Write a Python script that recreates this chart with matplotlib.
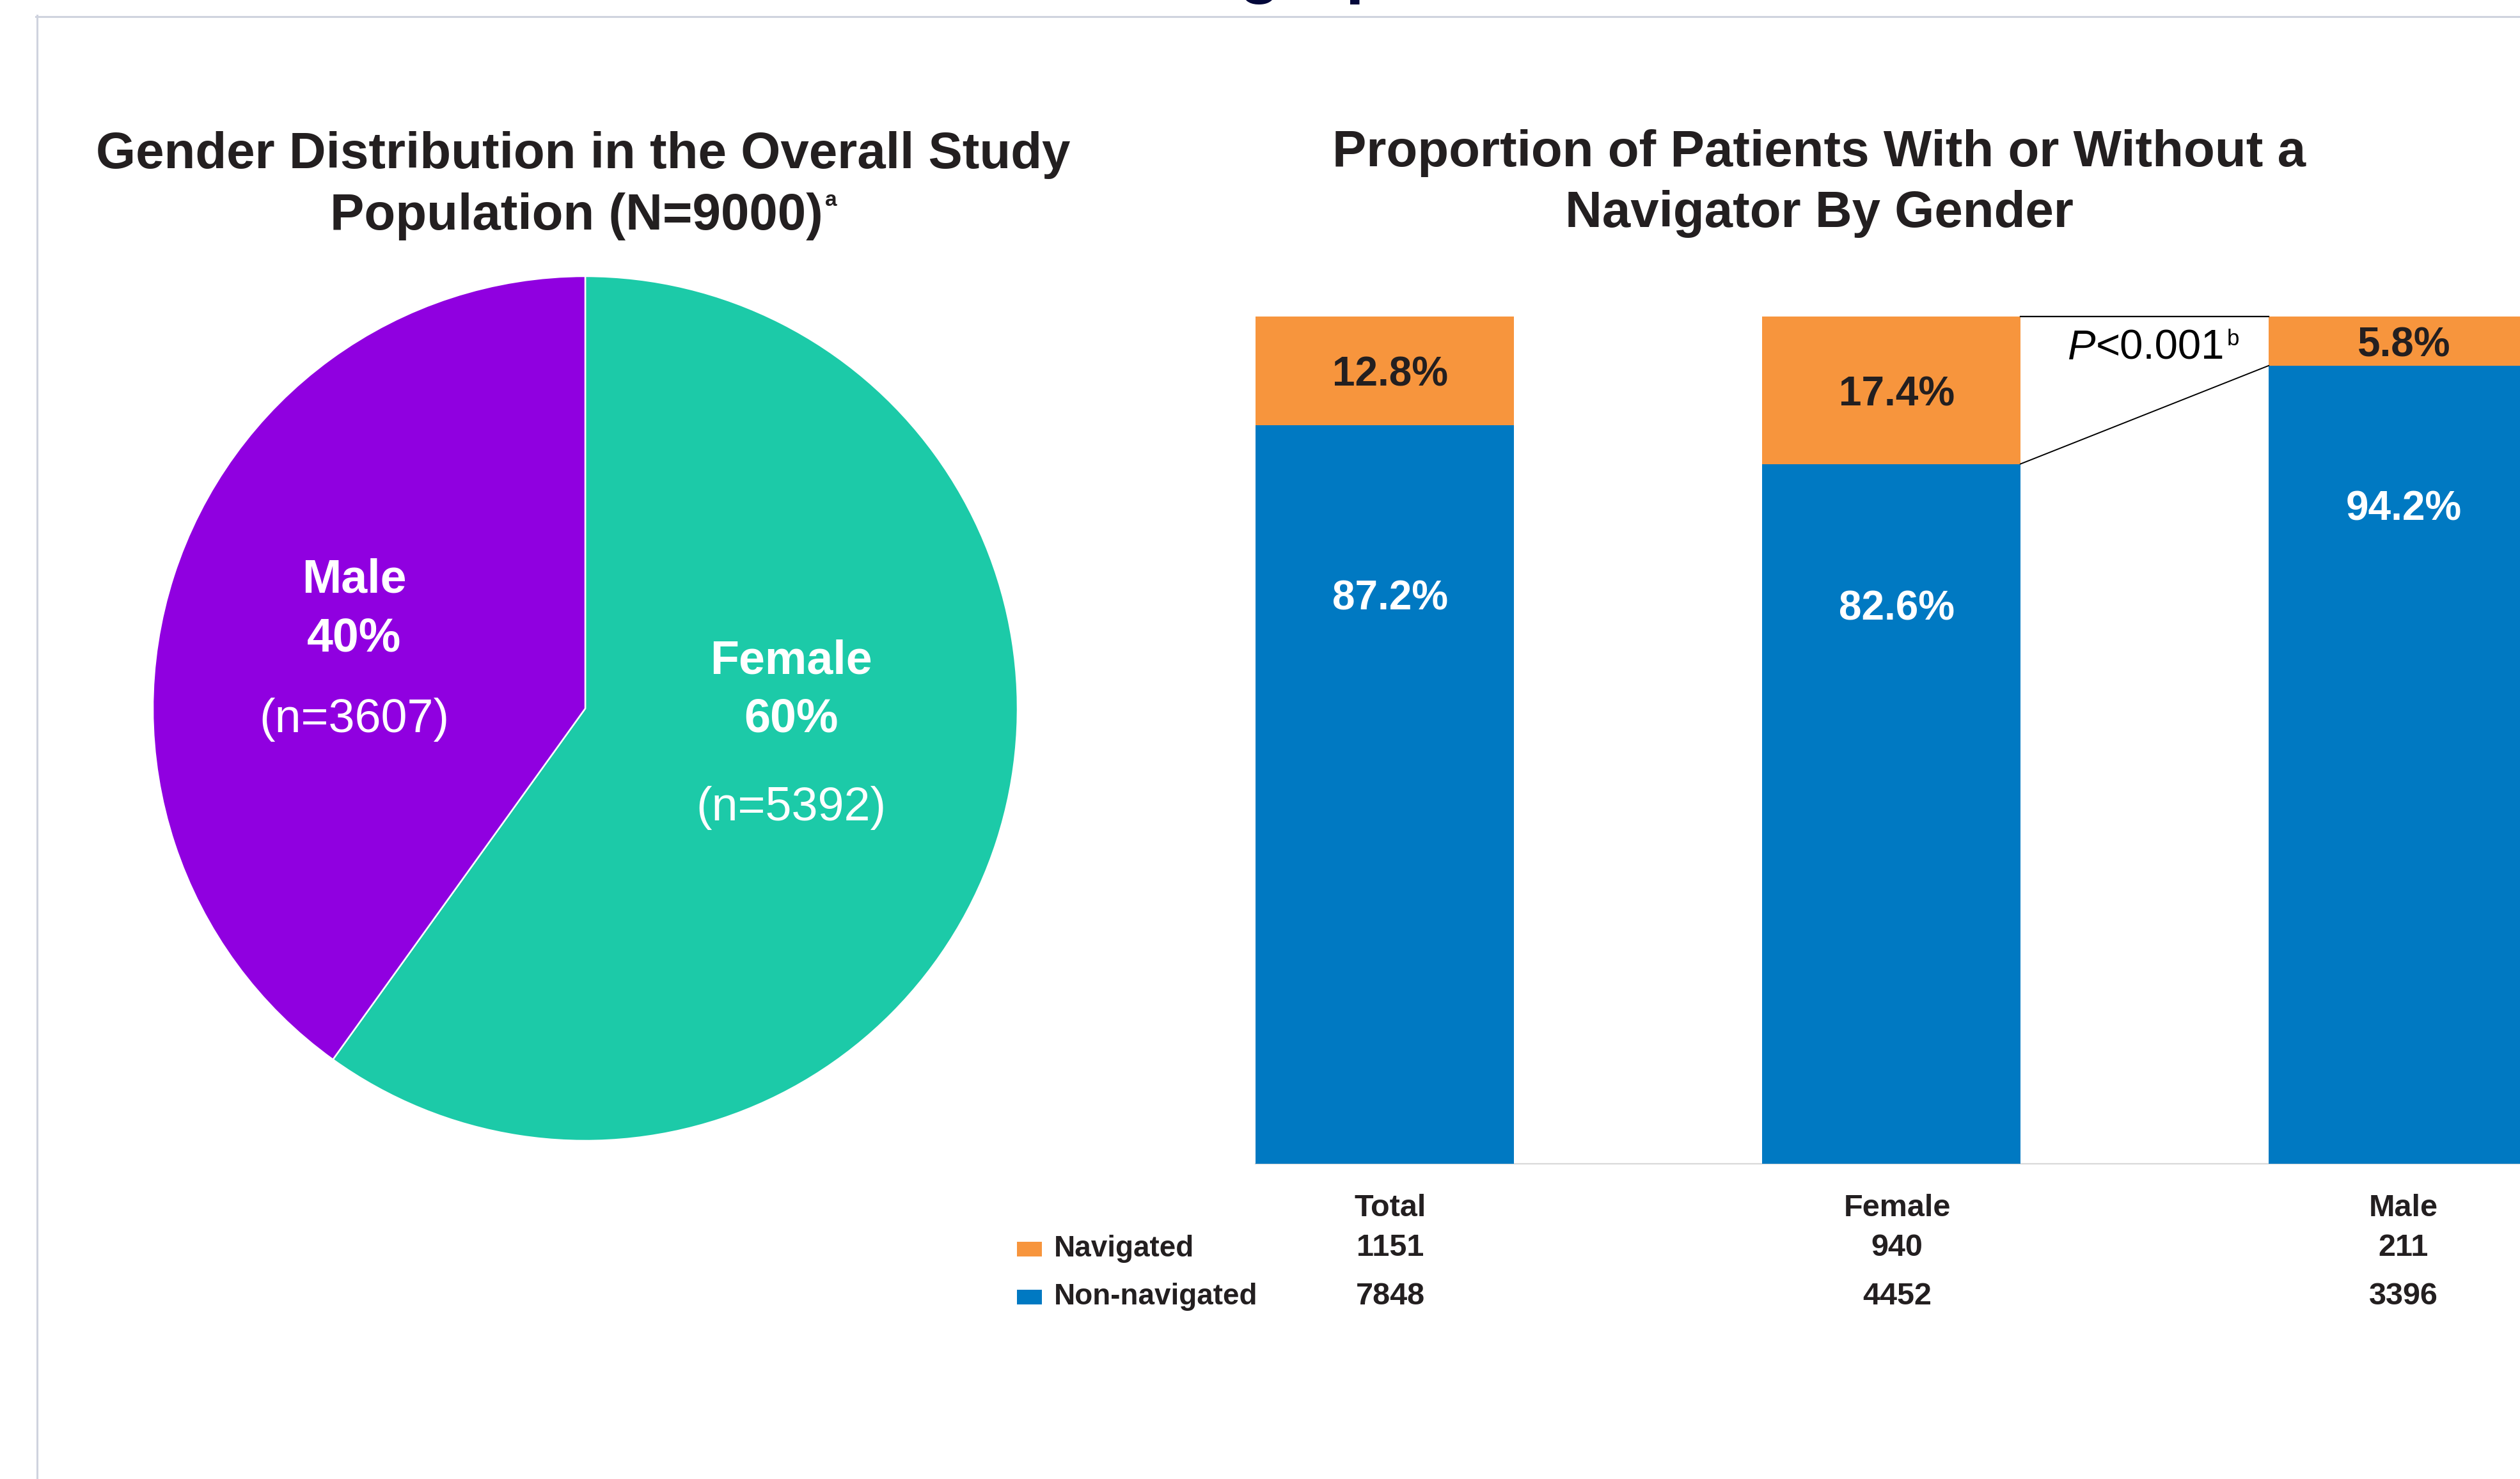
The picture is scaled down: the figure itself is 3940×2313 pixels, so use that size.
import matplotlib
matplotlib.use('Agg')
import matplotlib.pyplot as plt
from matplotlib.patches import Rectangle
from matplotlib.lines import Line2D
import matplotlib.transforms as mtransforms

W, H = 3941, 2313
DPI = 100
plt.rcParams['font.family'] = ['Liberation Sans', 'DejaVu Sans']

# ---------------- data ----------------
pie_names = ['Female', 'Male']
pie_counts = [5392, 3607]
pie_pct = ['60%', '40%']

groups = ['Total', 'Female', 'Male']
nav_pct = [12.8, 17.4, 5.8]
nonnav_pct = [87.2, 82.6, 94.2]
nav_n = [1151, 940, 211]
nonnav_n = [7848, 4452, 3396]
series_names = ['Navigated', 'Non-navigated']
p_value = 'P<0.001'

# ---------------- style ----------------
TEAL = '#1ccaa8'
PURPLE = '#9000e0'
ORANGE = '#f7953d'
BLUE = '#0079c2'
DARK = '#231f20'
NAVY = '#03083a'
BORDER = '#cfd3de'

fig = plt.figure(figsize=(W / DPI, H / DPI), dpi=DPI)
fig.patch.set_facecolor('white')
renderer = fig.canvas.get_renderer()


def fx(px):
    return px / W


def fy(py):
    return 1 - py / H


# border lines and cropped heading
fig.add_artist(Line2D([fx(56), 1], [fy(25.5), fy(25.5)], color=BORDER, lw=2.2,
                      transform=fig.transFigure))
fig.add_artist(Line2D([fx(57.5), fx(57.5)], [fy(24), 0], color=BORDER, lw=2.2,
                      transform=fig.transFigure))
fig.text(fx(1641), fy(-15), 'Demographics', ha='left', va='baseline',
         fontsize=77, fontweight='bold', color=NAVY)


def chain(parts, xc_px, base_px):
    texts = []
    for s, kw, rise, gap in parts:
        t = fig.text(0, 0, s, ha='left', va='baseline', **kw)
        texts.append((t, rise, gap))
    widths = [t.get_window_extent(renderer).width for t, _, _ in texts]
    total = sum(widths) + sum(g for _, _, g in texts)
    x = xc_px - total / 2
    for (t, rise, gap), w in zip(texts, widths):
        x += gap
        t.set_position((fx(x), fy(base_px - rise)))
        x += w


# ---------------- titles ----------------
title_kw = dict(fontsize=57.5, fontweight='bold', color=DARK)
fig.text(fx(912), fy(263), 'Gender Distribution in the Overall Study',
         ha='center', va='baseline', **title_kw)
chain([('Population (N=9000)', title_kw, 0, 0),
       ('a', dict(fontsize=24, fontweight='bold', color=DARK), 37, 3)],
      912, 359)
fig.text(fx(2844), fy(260), 'Proportion of Patients With or Without a',
         ha='center', va='baseline', **title_kw)
fig.text(fx(2844), fy(355), 'Navigator By Gender',
         ha='center', va='baseline', **title_kw)

# ---------------- pie ----------------
cx, cy, R = 915, 1108, 676
ax_pie = fig.add_axes([fx(cx - R), fy(cy + R), 2 * R / W, 2 * R / H])
ax_pie.pie(pie_counts, colors=[TEAL, PURPLE], startangle=90, counterclock=False,
           radius=1, wedgeprops=dict(edgecolor='white', linewidth=1.8))
ax_pie.set_xlim(-1, 1)
ax_pie.set_ylim(-1, 1)
ax_pie.axis('off')

pie_label_px = {
    'Female': (1237, [1053.5, 1144.5, 1283.5]),
    'Male': (554, [926.5, 1018.5, 1144.5]),
}
for name, pct, n in zip(pie_names, pie_pct, pie_counts):
    xp, bases = pie_label_px[name]
    dx = (xp - cx) / R
    lines = [(name, 'bold'), (pct, 'bold'), (f'(n={n})', 'normal')]
    for (s, wgt), b in zip(lines, bases):
        ax_pie.text(dx, (cy - b) / R, s, ha='center', va='baseline',
                    fontsize=53, fontweight=wgt, color='white')

# ---------------- stacked bars ----------------
c0, step = 2165, 792
left_px = 1963
ax = fig.add_axes([fx(left_px), fy(1820), (W - left_px) / W, 1325 / H])
x = list(range(len(groups)))
bw = 404 / step
ax.bar(x, nonnav_pct, width=bw, color=BLUE, linewidth=0, zorder=3)
ax.bar(x, nav_pct, width=bw, bottom=nonnav_pct, color=ORANGE, linewidth=0, zorder=3)
ax.set_xlim(-(c0 - left_px) / step, (W - c0) / step)
ax.set_ylim(0, 100)
ax.set_xticks([])
ax.set_yticks([])
for s in ['top', 'left', 'right']:
    ax.spines[s].set_visible(False)
ax.spines['bottom'].set_color('#d9d9d9')
ax.spines['bottom'].set_linewidth(1.6)
ax.spines['bottom'].set_zorder(2)

off = 9 / step
nonnav_label_y = [65.4, 64.2, 76.0]
for i in x:
    mid = nonnav_pct[i] + nav_pct[i] / 2
    ax.text(i + off, mid - 1.8, f'{nav_pct[i]:.1f}%', ha='center', va='baseline',
            fontsize=46, fontweight='bold', color=DARK, zorder=5)
    ax.text(i + off, nonnav_label_y[i], f'{nonnav_pct[i]:.1f}%', ha='center',
            va='baseline', fontsize=46, fontweight='bold', color='white', zorder=5)

# significance bracket between Female and Male
xa, xb = 1 + bw / 2, 2 - bw / 2
ax.plot([xa, xb], [100, 100], color='black', lw=1.6, clip_on=False, zorder=6)
ax.plot([xa, xb], [nonnav_pct[1], nonnav_pct[2]], color='black', lw=1.4,
        clip_on=False, zorder=6)
xc_p = c0 + step * 1.5 + 14
chain([('P', dict(fontsize=47, style='italic', color='black'), 0, 0),
       (p_value[1:], dict(fontsize=47, color='black'), 0, 0),
       ('b', dict(fontsize=25, color='black'), 22, 3)],
      xc_p, 562)

# ---------------- table under bars ----------------
btrans = mtransforms.blended_transform_factory(ax.transData, fig.transFigure)
tab_kw = dict(fontsize=35, fontweight='bold', color=DARK, ha='center',
              va='baseline', transform=btrans)
for i in x:
    ax.text(i + off, fy(1902), groups[i], **tab_kw)
    ax.text(i + off, fy(1964), f'{nav_n[i]}', **tab_kw)
    ax.text(i + off, fy(2040), f'{nonnav_n[i]}', **tab_kw)

for name, col, base in zip(series_names, [ORANGE, BLUE], [1965, 2040]):
    fig.add_artist(Rectangle((fx(1590), fy(base)), 39 / W, 23 / H,
                             transform=fig.transFigure, color=col, lw=0))
    fig.text(fx(1648), fy(base), name, ha='left', va='baseline', fontsize=33,
             fontweight='bold', color=DARK)

fig.savefig('out.png', dpi=DPI, facecolor='white')
